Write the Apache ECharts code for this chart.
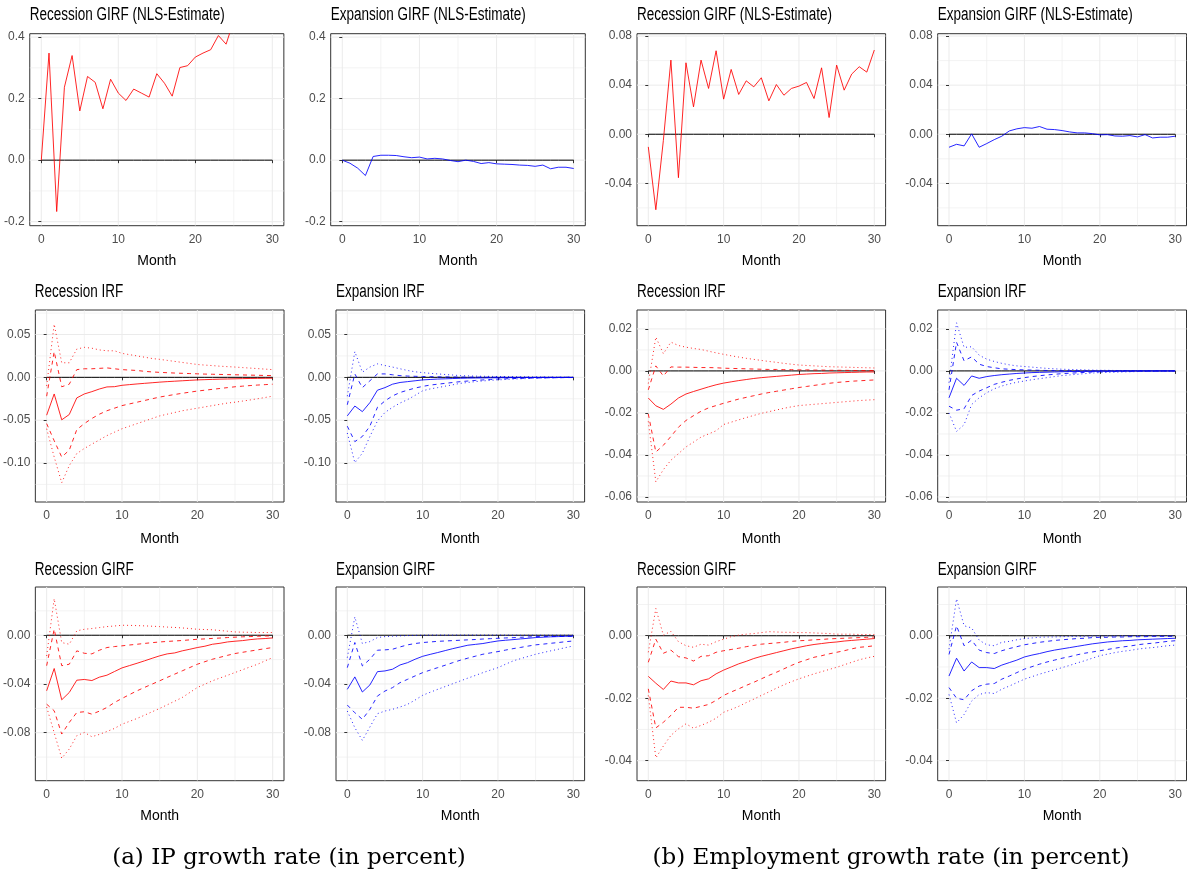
<!DOCTYPE html>
<html><head><meta charset="utf-8">
<script src="https://cdn.jsdelivr.net/npm/echarts@6/dist/echarts.min.js"></script>
<style>html,body{margin:0;padding:0;background:#fff}#c{width:1187px;height:877px}</style>
</head><body><div id="c"></div><script>
// ---------------- data ----------------
const months = [0,1,2,3,4,5,6,7,8,9,10,11,12,13,14,15,16,17,18,19,20,21,22,23,24,25,26,27,28,29,30];
const xTicks = [0,10,20,30];
const xMinor = [5,15,25];

// Row 1: NLS-estimate GIRFs
const ipRecNls = [0.0,0.348,-0.167,0.237,0.340,0.160,0.272,0.253,0.167,0.263,0.218,0.194,0.231,0.218,0.205,0.281,0.250,0.208,0.301,0.307,0.335,0.348,0.359,0.405,0.377,0.454];
const ipExpNls = [0.0,-0.010,-0.026,-0.050,0.012,0.016,0.016,0.015,0.011,0.008,0.010,0.004,0.006,0.004,-0.001,-0.005,0.000,-0.004,-0.011,-0.008,-0.012,-0.013,-0.014,-0.016,-0.017,-0.020,-0.016,-0.028,-0.023,-0.023,-0.027];
const empRecNls = [-0.0103,-0.0615,-0.005,0.0604,-0.0354,0.0582,0.0223,0.0604,0.0373,0.068,0.0286,0.0528,0.0324,0.0435,0.0386,0.046,0.0272,0.0405,0.0318,0.0373,0.0392,0.0422,0.0291,0.0541,0.0136,0.0563,0.0359,0.049,0.055,0.0506,0.0686];
const empExpNls = [-0.0106,-0.0082,-0.0095,0.0003,-0.0106,-0.0076,-0.0044,-0.0016,0.0027,0.0044,0.0054,0.0049,0.0063,0.0041,0.0038,0.003,0.0019,0.0011,0.0011,0.0005,-0.0005,-0.0003,-0.0014,-0.0016,-0.0011,-0.0022,-0.0003,-0.003,-0.0024,-0.0024,-0.0016];

// Row 2: IRFs (mid, inner band hi/lo, outer band hi/lo)
const ipRecIrfMid = [-0.0442,-0.0194,-0.0496,-0.0434,-0.024,-0.0194,-0.0167,-0.0136,-0.0112,-0.0109,-0.0093,-0.0085,-0.0077,-0.007,-0.0063,-0.0056,-0.005,-0.0045,-0.004,-0.0035,-0.003,-0.0027,-0.0024,-0.0021,-0.0019,-0.0017,-0.0015,-0.0013,-0.0012,-0.0011,-0.001];
const ipRecIrfHi1 = [-0.022,0.030,-0.011,-0.008,0.009,0.010,0.010,0.0105,0.011,0.010,0.009,0.0085,0.008,0.007,0.0063,0.0058,0.0054,0.005,0.0047,0.0044,0.0041,0.0038,0.0036,0.0034,0.0032,0.003,0.0028,0.0026,0.0024,0.0022,0.002];
const ipRecIrfLo1 = [-0.054,-0.074,-0.093,-0.085,-0.061,-0.054,-0.048,-0.043,-0.039,-0.036,-0.033,-0.031,-0.029,-0.027,-0.025,-0.023,-0.0215,-0.02,-0.0186,-0.0173,-0.016,-0.015,-0.014,-0.013,-0.012,-0.011,-0.0103,-0.0096,-0.009,-0.0085,-0.008];
const ipRecIrfHi2 = [-0.01,0.062,0.017,0.017,0.033,0.035,0.034,0.032,0.031,0.031,0.028,0.0265,0.025,0.0235,0.022,0.021,0.0198,0.0186,0.0174,0.0162,0.015,0.0143,0.0137,0.013,0.0125,0.012,0.0114,0.0108,0.0102,0.0096,0.009];
const ipRecIrfLo2 = [-0.060,-0.093,-0.123,-0.103,-0.089,-0.083,-0.078,-0.073,-0.068,-0.064,-0.060,-0.057,-0.054,-0.051,-0.048,-0.045,-0.043,-0.041,-0.039,-0.0375,-0.036,-0.0345,-0.033,-0.0315,-0.030,-0.029,-0.0277,-0.0264,-0.025,-0.0235,-0.022];

const ipExpIrfMid = [-0.045,-0.0335,-0.040,-0.0295,-0.015,-0.012,-0.008,-0.006,-0.005,-0.004,-0.003,-0.0025,-0.002,-0.0017,-0.0014,-0.0011,-0.0009,-0.0008,-0.0007,-0.0006,-0.0005,-0.0004,-0.0003,-0.0003,-0.0002,-0.0002,-0.0001,-0.0001,-0.0001,0,0];
const ipExpIrfHi1 = [-0.032,0.004,-0.012,-0.004,0.004,0.004,0.003,0.002,0.0015,0.0012,0.001,0.0008,0.0006,0.0005,0.0004,0.0003,0.0002,0.0002,0.0001,0.0001,0.0001,0.0001,0,0,0,0,0,0,0,0,0];
const ipExpIrfLo1 = [-0.057,-0.075,-0.069,-0.057,-0.035,-0.0275,-0.0217,-0.0177,-0.015,-0.0125,-0.0106,-0.009,-0.008,-0.007,-0.006,-0.005,-0.0043,-0.0036,-0.003,-0.0025,-0.002,-0.0017,-0.0014,-0.0012,-0.001,-0.0008,-0.0006,-0.0005,-0.0004,-0.0003,-0.0002];
const ipExpIrfHi2 = [-0.022,0.030,0.006,0.012,0.0157,0.0138,0.012,0.010,0.008,0.0065,0.0055,0.0047,0.004,0.0033,0.0027,0.002,0.0017,0.0014,0.0012,0.0011,0.001,0.0009,0.0008,0.0007,0.0006,0.0005,0.0004,0.0003,0.0002,0.0001,0];
const ipExpIrfLo2 = [-0.065,-0.0996,-0.0885,-0.069,-0.051,-0.041,-0.035,-0.030,-0.026,-0.021,-0.0157,-0.0135,-0.012,-0.0103,-0.0087,-0.007,-0.006,-0.005,-0.0042,-0.0035,-0.003,-0.0025,-0.002,-0.0017,-0.0014,-0.001,-0.0008,-0.0006,-0.0004,-0.0002,0];

const empRecIrfMid = [-0.0129,-0.0166,-0.0183,-0.0158,-0.0129,-0.011,-0.0098,-0.0087,-0.0076,-0.0066,-0.0058,-0.0052,-0.0046,-0.0041,-0.0036,-0.0032,-0.0029,-0.0026,-0.0023,-0.002,-0.0017,-0.0015,-0.0013,-0.0012,-0.001,-0.0009,-0.0008,-0.0007,-0.0006,-0.0005,-0.0005];
const empRecIrfHi1 = [-0.009,0.0024,-0.0024,0.0019,0.0018,0.0018,0.0017,0.0016,0.0016,0.0015,0.0013,0.0012,0.0011,0.001,0.0009,0.0008,0.0007,0.0007,0.0006,0.0006,0.0005,0.0005,0.0004,0.0004,0.0003,0.0003,0.0003,0.0002,0.0002,0.0002,0.0002];
const empRecIrfLo1 = [-0.0205,-0.0386,-0.0354,-0.0312,-0.0268,-0.0236,-0.0213,-0.0192,-0.0176,-0.0165,-0.0154,-0.0144,-0.0134,-0.0126,-0.0118,-0.011,-0.0103,-0.0097,-0.0091,-0.0085,-0.0079,-0.0074,-0.0069,-0.0064,-0.0059,-0.0055,-0.0052,-0.0049,-0.0047,-0.0045,-0.0043];
const empRecIrfHi2 = [-0.006,0.0161,0.0082,0.0137,0.0121,0.0113,0.0107,0.0102,0.0094,0.0086,0.0079,0.0072,0.0066,0.006,0.0055,0.005,0.0045,0.0041,0.0036,0.0032,0.0028,0.0026,0.0024,0.0022,0.002,0.0019,0.0018,0.0017,0.0016,0.0015,0.0014];
const empRecIrfLo2 = [-0.024,-0.0528,-0.047,-0.0425,-0.0394,-0.0362,-0.0339,-0.0315,-0.030,-0.0285,-0.0255,-0.0244,-0.0233,-0.0222,-0.0212,-0.0202,-0.0194,-0.0186,-0.0178,-0.0171,-0.0165,-0.0162,-0.0159,-0.0156,-0.0153,-0.015,-0.0147,-0.0144,-0.0141,-0.0139,-0.0137];

const empExpIrfMid = [-0.0128,-0.0035,-0.0069,-0.0024,-0.0035,-0.0027,-0.0022,-0.0018,-0.0015,-0.0012,-0.001,-0.0008,-0.0007,-0.0006,-0.0005,-0.0004,-0.0003,-0.0003,-0.0002,-0.0002,-0.0001,-0.0001,-0.0001,0,0,0,0,0,0,0,0];
const empExpIrfHi1 = [-0.009,0.0136,0.0048,0.0067,0.0032,0.0021,0.0015,0.001,0.0008,0.0006,0.0005,0.0004,0.0003,0.0002,0.0002,0.0001,0.0001,0.0001,0,0,0,0,0,0,0,0,0,0,0,0,0];
const empExpIrfLo1 = [-0.0168,-0.0187,-0.018,-0.0117,-0.0096,-0.008,-0.0064,-0.0054,-0.0045,-0.0038,-0.0032,-0.0027,-0.0023,-0.0019,-0.0016,-0.0013,-0.0011,-0.0009,-0.0007,-0.0005,-0.0004,-0.0003,-0.0003,-0.0002,-0.0002,-0.0001,-0.0001,-0.0001,0,0,0];
const empExpIrfHi2 = [-0.0056,0.0229,0.0112,0.0115,0.0075,0.0056,0.0045,0.0036,0.0029,0.0024,0.0021,0.0018,0.0015,0.0012,0.001,0.0008,0.0007,0.0006,0.0005,0.0004,0.0003,0.0003,0.0002,0.0002,0.0001,0.0001,0.0001,0.0001,0,0,0];
const empExpIrfLo2 = [-0.02,-0.0288,-0.0256,-0.016,-0.0128,-0.0104,-0.0085,-0.0072,-0.0062,-0.0054,-0.0048,-0.0042,-0.0037,-0.0032,-0.0027,-0.0022,-0.0019,-0.0016,-0.0013,-0.001,-0.0008,-0.0007,-0.0006,-0.0005,-0.0004,-0.0003,-0.0002,-0.0002,-0.0001,-0.0001,-0.0001];

// Row 3: GIRFs
const ipRecGirfMid = [-0.0456,-0.0273,-0.053,-0.047,-0.0369,-0.0363,-0.0372,-0.0344,-0.0328,-0.0298,-0.0268,-0.0249,-0.023,-0.021,-0.0189,-0.0169,-0.0153,-0.0145,-0.0128,-0.0115,-0.0101,-0.009,-0.0074,-0.0066,-0.0055,-0.0049,-0.0044,-0.0036,-0.003,-0.0027,-0.0022];
const ipRecGirfHi1 = [-0.025,0.005,-0.025,-0.0238,-0.0128,-0.0148,-0.0153,-0.0123,-0.0101,-0.0093,-0.0087,-0.008,-0.0074,-0.0067,-0.0061,-0.0055,-0.0051,-0.0047,-0.0043,-0.0038,-0.0033,-0.003,-0.0026,-0.0023,-0.0019,-0.0016,-0.0013,-0.0011,-0.0008,-0.0006,-0.0005];
const ipRecGirfLo1 = [-0.0566,-0.062,-0.0811,-0.0716,-0.0634,-0.0628,-0.0648,-0.0623,-0.0593,-0.0552,-0.0519,-0.0487,-0.0456,-0.0428,-0.0401,-0.0374,-0.0346,-0.0319,-0.0292,-0.0265,-0.0238,-0.0217,-0.0197,-0.0181,-0.0165,-0.015,-0.014,-0.013,-0.012,-0.011,-0.0101];
const ipRecGirfHi2 = [-0.017,0.030,-0.006,-0.0074,0.0036,0.0049,0.0055,0.0063,0.0071,0.0076,0.0082,0.0081,0.0079,0.0077,0.0074,0.0071,0.0067,0.0064,0.006,0.0055,0.0049,0.0047,0.0045,0.0039,0.0033,0.0027,0.0025,0.0024,0.0022,0.0022,0.0022];
const ipRecGirfLo2 = [-0.059,-0.080,-0.101,-0.0934,-0.0825,-0.0798,-0.0833,-0.0814,-0.079,-0.0765,-0.073,-0.0707,-0.0683,-0.0656,-0.0628,-0.0601,-0.0571,-0.0541,-0.0511,-0.047,-0.0429,-0.0402,-0.0374,-0.0351,-0.0329,-0.0306,-0.0283,-0.026,-0.0238,-0.021,-0.0183];

const ipExpGirfMid = [-0.0444,-0.0342,-0.0466,-0.0408,-0.0299,-0.0293,-0.0279,-0.0244,-0.0225,-0.0197,-0.0173,-0.0157,-0.0142,-0.0126,-0.011,-0.0096,-0.0082,-0.0075,-0.0068,-0.0057,-0.0047,-0.0041,-0.0036,-0.003,-0.0025,-0.0019,-0.0016,-0.0013,-0.0011,-0.0009,-0.0008];
const ipExpGirfHi1 = [-0.0266,-0.006,-0.0252,-0.0197,-0.0123,-0.012,-0.0115,-0.0096,-0.0079,-0.0068,-0.006,-0.0055,-0.005,-0.0047,-0.0044,-0.0041,-0.0038,-0.0035,-0.0031,-0.0028,-0.0025,-0.0022,-0.002,-0.0017,-0.0014,-0.0011,-0.001,-0.001,-0.001,-0.0009,-0.0009];
const ipExpGirfLo1 = [-0.0573,-0.0636,-0.069,-0.0608,-0.0499,-0.0458,-0.043,-0.0389,-0.0362,-0.0334,-0.0307,-0.0286,-0.0266,-0.0246,-0.0225,-0.0205,-0.0188,-0.0172,-0.0156,-0.0145,-0.0134,-0.0122,-0.011,-0.01,-0.0089,-0.0079,-0.0073,-0.0066,-0.006,-0.0053,-0.0047];
const ipExpGirfHi2 = [-0.0184,0.015,-0.0068,-0.0052,-0.0019,-0.0011,-0.0008,-0.0005,-0.0003,-0.0001,0.0,0.0001,0.0001,0.0001,0.0001,0.0001,0.0001,0.0001,0.0001,0.0001,0.0001,0.0001,0.0,0.0,0.0,0.0,0.0,0.0,0.0,0.0,0.0];
const ipExpGirfLo2 = [-0.0622,-0.0759,-0.0863,-0.0753,-0.0644,-0.0622,-0.0608,-0.0589,-0.0567,-0.0532,-0.0493,-0.0468,-0.0444,-0.0421,-0.0398,-0.0375,-0.0352,-0.033,-0.0307,-0.0286,-0.0266,-0.0238,-0.0211,-0.0192,-0.0174,-0.0156,-0.0142,-0.0128,-0.0115,-0.0101,-0.0088];

const empRecGirfMid = [-0.013,-0.0152,-0.0172,-0.0145,-0.0151,-0.0151,-0.0157,-0.0144,-0.0138,-0.0122,-0.011,-0.01,-0.009,-0.0082,-0.0073,-0.0066,-0.006,-0.0054,-0.0048,-0.0042,-0.0037,-0.0032,-0.0028,-0.0025,-0.0022,-0.002,-0.0017,-0.0015,-0.0013,-0.0011,-0.0009];
const empRecGirfHi1 = [-0.0085,-0.0011,-0.0056,-0.0046,-0.0067,-0.0071,-0.0081,-0.0066,-0.0064,-0.0053,-0.0048,-0.0044,-0.004,-0.0035,-0.0031,-0.0027,-0.0025,-0.0023,-0.0021,-0.0018,-0.0016,-0.0015,-0.0013,-0.0012,-0.001,-0.0009,-0.0008,-0.0007,-0.0006,-0.0005,-0.0004];
const empRecGirfLo1 = [-0.017,-0.0295,-0.0277,-0.0255,-0.0229,-0.0229,-0.0232,-0.0226,-0.022,-0.0207,-0.0191,-0.018,-0.017,-0.0159,-0.0149,-0.0138,-0.0127,-0.0117,-0.0106,-0.0095,-0.0085,-0.0077,-0.0069,-0.0064,-0.0058,-0.0053,-0.0048,-0.0042,-0.0037,-0.0035,-0.0032];
const empRecGirfHi2 = [-0.0053,0.0087,0.0002,0.0014,-0.0019,-0.0032,-0.0037,-0.0027,-0.003,-0.0019,-0.0011,-0.0003,0.0002,0.0005,0.0007,0.001,0.0013,0.0012,0.0011,0.0011,0.001,0.001,0.0009,0.0008,0.0007,0.0005,0.0005,0.0005,0.0004,0.0004,0.0004];
const empRecGirfLo2 = [-0.0191,-0.0391,-0.0353,-0.0319,-0.0298,-0.0282,-0.0296,-0.0287,-0.0277,-0.0264,-0.0245,-0.0236,-0.0226,-0.0214,-0.0203,-0.0191,-0.018,-0.0168,-0.0157,-0.0147,-0.0138,-0.013,-0.0122,-0.0115,-0.0108,-0.0101,-0.0093,-0.0085,-0.0077,-0.0071,-0.0066];

const empExpGirfMid = [-0.0129,-0.0072,-0.0113,-0.0084,-0.0102,-0.0102,-0.0105,-0.0094,-0.0086,-0.0078,-0.0068,-0.0062,-0.0057,-0.0051,-0.0046,-0.0042,-0.0038,-0.0034,-0.003,-0.0026,-0.0023,-0.002,-0.0018,-0.0016,-0.0015,-0.0013,-0.0012,-0.0011,-0.001,-0.0009,-0.0008];
const empExpGirfHi1 = [-0.006,0.0032,-0.0032,-0.0014,-0.0046,-0.0054,-0.0057,-0.0048,-0.0041,-0.0035,-0.0029,-0.0025,-0.0021,-0.0018,-0.0015,-0.0013,-0.0011,-0.0009,-0.0008,-0.0006,-0.0005,-0.0005,-0.0004,-0.0004,-0.0003,-0.0003,-0.0003,-0.0002,-0.0002,-0.0002,-0.0002];
const empExpGirfLo1 = [-0.0166,-0.02,-0.0205,-0.0176,-0.0161,-0.0155,-0.0153,-0.0139,-0.0129,-0.0118,-0.0107,-0.0099,-0.0091,-0.0084,-0.0078,-0.0072,-0.0067,-0.0061,-0.0056,-0.0052,-0.0048,-0.0044,-0.004,-0.0036,-0.0033,-0.0029,-0.0026,-0.0024,-0.0021,-0.0018,-0.0016];
const empExpGirfHi2 = [-0.0043,0.0118,0.0032,0.0025,-0.0014,-0.0029,-0.0032,-0.0021,-0.0018,-0.0013,-0.0009,-0.0007,-0.0005,-0.0004,-0.0004,-0.0003,-0.0002,-0.0002,-0.0002,-0.0001,-0.0001,-0.0001,-0.0001,0,0,0,0,0,0,0,0];
const empExpGirfLo2 = [-0.0188,-0.0279,-0.0252,-0.0209,-0.0188,-0.0182,-0.0185,-0.0171,-0.0161,-0.015,-0.0139,-0.0131,-0.0123,-0.0116,-0.0109,-0.0102,-0.0095,-0.0087,-0.008,-0.0072,-0.0064,-0.0059,-0.0054,-0.005,-0.0047,-0.0043,-0.004,-0.0038,-0.0035,-0.0032,-0.003];

// y tick labels (major) and minor grid values per panel row/variable
const yTicksIpNls = [-0.2,0,0.2,0.4],        yMinorIpNls = [-0.1,0.1,0.3];
const yTicksEmpNls = [-0.04,0,0.04,0.08],    yMinorEmpNls = [-0.06,-0.02,0.02,0.06];
const yTicksIpIrf = [-0.1,-0.05,0,0.05],     yMinorIpIrf = [-0.125,-0.075,-0.025,0.025,0.075];
const yTicksEmpIrf = [-0.06,-0.04,-0.02,0,0.02], yMinorEmpIrf = [-0.05,-0.03,-0.01,0.01];
const yTicksIpGirf = [-0.08,-0.04,0],        yMinorIpGirf = [-0.1,-0.06,-0.02,0.02];
const yTicksEmpGirf = [-0.04,-0.02,0],       yMinorEmpGirf = [-0.03,-0.01,0.01];

// ---------------- layout / style ----------------
const RED = '#FF0000', BLUE = '#0000FF';
const DASH = [4,4], DOT = [1,3];
const SANS = "'Liberation Sans',Arial,sans-serif";

const boxes = [
  [29.75,33.7,283.85,225.7],[330.7,33.7,585.3,225.7],[637,33.7,885.6,225.7],[937.7,33.7,1186.5,225.7],
  [34.7,310,284,502],[336,310,584.6,502],[637,310,885.6,502],[937.7,310,1186.5,502],
  [34.7,587,284,780.7],[336,587,584.6,780.7],[637,587,885.6,780.7],[937.7,587,1186.5,780.7]
];
const titleY = [15, 291.7, 570];
const nameGaps = [28.5, 30, 28.5];

function band(mid, hi1, lo1, hi2, lo2, color) {
  return [
    {d: hi2, c: color, t: DOT}, {d: lo2, c: color, t: DOT},
    {d: hi1, c: color, t: DASH}, {d: lo1, c: color, t: DASH},
    {d: mid, c: color, t: 'solid'}
  ];
}

const panels = [
  {title:'Recession GIRF (NLS-Estimate)', yr:[-0.213,0.411], ticks:yTicksIpNls, minor:yMinorIpNls, dec:1, lines:[{d:ipRecNls,c:RED,t:'solid'}]},
  {title:'Expansion GIRF (NLS-Estimate)', yr:[-0.213,0.411], ticks:yTicksIpNls, minor:yMinorIpNls, dec:1, lines:[{d:ipExpNls,c:BLUE,t:'solid'}]},
  {title:'Recession GIRF (NLS-Estimate)', yr:[-0.0745,0.0819], ticks:yTicksEmpNls, minor:yMinorEmpNls, dec:2, lines:[{d:empRecNls,c:RED,t:'solid'}]},
  {title:'Expansion GIRF (NLS-Estimate)', yr:[-0.0745,0.0819], ticks:yTicksEmpNls, minor:yMinorEmpNls, dec:2, lines:[{d:empExpNls,c:BLUE,t:'solid'}]},
  {title:'Recession IRF', yr:[-0.1455,0.0786], ticks:yTicksIpIrf, minor:yMinorIpIrf, dec:2, lines:band(ipRecIrfMid,ipRecIrfHi1,ipRecIrfLo1,ipRecIrfHi2,ipRecIrfLo2,RED)},
  {title:'Expansion IRF', yr:[-0.1455,0.0786], ticks:yTicksIpIrf, minor:yMinorIpIrf, dec:2, lines:band(ipExpIrfMid,ipExpIrfHi1,ipExpIrfLo1,ipExpIrfHi2,ipExpIrfLo2,BLUE)},
  {title:'Recession IRF', yr:[-0.0624,0.029], ticks:yTicksEmpIrf, minor:yMinorEmpIrf, dec:2, lines:band(empRecIrfMid,empRecIrfHi1,empRecIrfLo1,empRecIrfHi2,empRecIrfLo2,RED)},
  {title:'Expansion IRF', yr:[-0.0624,0.029], ticks:yTicksEmpIrf, minor:yMinorEmpIrf, dec:2, lines:band(empExpIrfMid,empExpIrfHi1,empExpIrfLo1,empExpIrfHi2,empExpIrfLo2,BLUE)},
  {title:'Recession GIRF', yr:[-0.1194,0.0396], ticks:yTicksIpGirf, minor:yMinorIpGirf, dec:2, lines:band(ipRecGirfMid,ipRecGirfHi1,ipRecGirfLo1,ipRecGirfHi2,ipRecGirfLo2,RED)},
  {title:'Expansion GIRF', yr:[-0.1194,0.0396], ticks:yTicksIpGirf, minor:yMinorIpGirf, dec:2, lines:band(ipExpGirfMid,ipExpGirfHi1,ipExpGirfLo1,ipExpGirfHi2,ipExpGirfLo2,BLUE)},
  {title:'Recession GIRF', yr:[-0.0464,0.0156], ticks:yTicksEmpGirf, minor:yMinorEmpGirf, dec:2, lines:band(empRecGirfMid,empRecGirfHi1,empRecGirfLo1,empRecGirfHi2,empRecGirfLo2,RED)},
  {title:'Expansion GIRF', yr:[-0.0464,0.0156], ticks:yTicksEmpGirf, minor:yMinorEmpGirf, dec:2, lines:band(empExpGirfMid,empExpGirfHi1,empExpGirfLo1,empExpGirfHi2,empExpGirfLo2,BLUE)}
];

const grids = [], xAxes = [], yAxes = [], series = [], graphics = [];

function gridRender(params, api) {
  const v = api.value(0), o = api.value(1), maj = api.value(2);
  const cs = params.coordSys;
  const style = {stroke:'#EBEBEB', lineWidth: maj ? 1 : 0.6};
  if (o === 0) {
    const px = api.coord([v, 0])[0];
    return {type:'line', shape:{x1:px, y1:cs.y, x2:px, y2:cs.y + cs.height}, style};
  }
  const py = api.coord([0, v])[1];
  return {type:'line', shape:{x1:cs.x, y1:py, x2:cs.x + cs.width, y2:py}, style};
}

panels.forEach((p, i) => {
  const b = boxes[i], row = Math.floor(i / 4);
  grids.push({left:b[0], top:b[1], width:b[2]-b[0], height:b[3]-b[1], show:true,
    borderColor:'#333333', borderWidth:1, backgroundColor:'#ffffff', containLabel:false});
  xAxes.push({gridIndex:i, type:'value', min:-1.5, max:31.5,
    name:'Month', nameLocation:'middle', nameGap:nameGaps[row],
    nameTextStyle:{fontFamily:SANS, fontSize:14, color:'#000'},
    axisLine:{show:false},
    axisTick:{show:true, customValues:xTicks, length:3, lineStyle:{color:'#333333', width:1}},
    axisLabel:{customValues:xTicks, fontFamily:SANS, fontSize:12, color:'#4D4D4D', margin:7.5},
    splitLine:{show:false}});
  yAxes.push({gridIndex:i, type:'value', min:p.yr[0], max:p.yr[1],
    axisLine:{show:false},
    axisTick:{show:true, customValues:p.ticks, length:3, lineStyle:{color:'#333333', width:1}},
    axisLabel:{customValues:p.ticks, fontFamily:SANS, fontSize:12, color:'#4D4D4D', margin:5,
      formatter: (v) => Number(v).toFixed(p.dec)},
    splitLine:{show:false}});
  const gdata = [];
  xTicks.forEach(v => gdata.push([v,0,1])); xMinor.forEach(v => gdata.push([v,0,0]));
  p.ticks.forEach(v => gdata.push([v,1,1])); p.minor.forEach(v => gdata.push([v,1,0]));
  series.push({type:'custom', xAxisIndex:i, yAxisIndex:i, z:0, silent:true, clip:true,
    data:gdata, renderItem:gridRender});
  series.push({type:'line', xAxisIndex:i, yAxisIndex:i, z:2, silent:true, symbol:'none',
    data: months.map(m => [m, 0]), lineStyle:{color:'#000000', width:1}});
  p.lines.forEach(l => {
    series.push({type:'line', xAxisIndex:i, yAxisIndex:i, z:3, silent:true, symbol:'none', clip:true,
      data: l.d.map((v, k) => [months[k], v]),
      lineStyle:{color:l.c, width:1, type:l.t, opacity:0.85}});
  });
  graphics.push({type:'text', x:b[0], y:titleY[row], scaleX:0.75, silent:true,
    style:{text:p.title, fontFamily:'Liberation Sans', fontSize:18, fill:'#000', align:'left', verticalAlign:'middle'}});
});

graphics.push({type:'text', x:289, y:858, silent:true,
  style:{text:'(a) IP growth rate (in percent)', fontFamily:"'DejaVu Serif',serif", fontSize:23, fill:'#000', align:'center', verticalAlign:'middle'}});
graphics.push({type:'text', x:891, y:858, silent:true,
  style:{text:'(b) Employment growth rate (in percent)', fontFamily:"'DejaVu Serif',serif", fontSize:23, fill:'#000', align:'center', verticalAlign:'middle'}});

const chart = echarts.init(document.getElementById('c'), null, {renderer:'canvas'});
chart.setOption({animation:false, backgroundColor:'#ffffff', grid:grids, xAxis:xAxes, yAxis:yAxes, series, graphic:graphics});
</script></body></html>
